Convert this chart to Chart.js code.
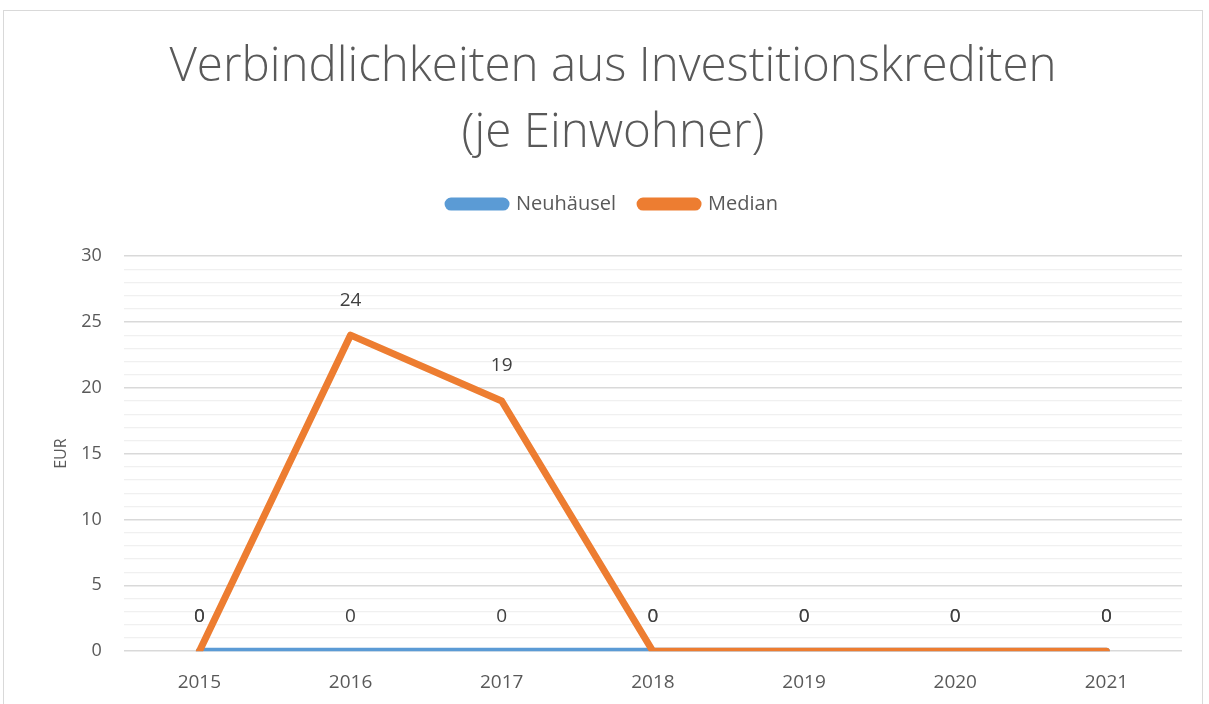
<!DOCTYPE html>
<html>
<head>
<meta charset="utf-8">
<script src="https://cdn.jsdelivr.net/npm/chart.js@4/dist/chart.umd.min.js"></script>
<style>
  html, body { margin: 0; padding: 0; background: #fff; overflow: hidden; }
  #wrap {
    position: absolute; left: 3px; top: 10px; width: 1200px; height: 700px;
    border: 1px solid #d9d9d9; box-sizing: border-box; background: #fff;
  }
</style>
</head>
<body>
<div id="wrap"><canvas id="chart"></canvas></div>
<script>
// --- data ---
const years = ['2015', '2016', '2017', '2018', '2019', '2020', '2021'];
const neuhaeusel = [0, 0, 0, 0, 0, 0, 0];
const median = [0, 24, 19, 0, 0, 0, 0];
const titleLines = ['Verbindlichkeiten aus Investitionskrediten', '(je Einwohner)'];

const FONT = "'Open Sans', 'Liberation Sans', sans-serif";
const GREY = '#595959';

// value labels above each point
const valueLabels = {
    id: 'valueLabels',
    afterDatasetsDraw(chart) {
        const ctx = chart.ctx;
        ctx.save();
        ctx.font = '19px ' + FONT;
        ctx.fillStyle = '#404040';
        ctx.textAlign = 'center';
        ctx.textBaseline = 'middle';
        chart.data.datasets.forEach((ds, i) => {
            const meta = chart.getDatasetMeta(i);
            meta.data.forEach((pt, j) => {
                ctx.fillText(String(ds.data[j]), pt.x, pt.y - 35);
            });
        });
        ctx.restore();
    }
};

// extra gap below the legend
const legendGap = {
    id: 'legendGap',
    beforeUpdate(chart) {
        const lg = chart.legend;
        if (lg && !lg._gapPatched) {
            const fit = lg.fit;
            lg.fit = function () {
                fit.call(this);
                this.height += 32;
            };
            lg._gapPatched = true;
        }
    }
};

new Chart(document.getElementById('chart'), {
    type: 'line',
    data: {
        labels: years,
        datasets: [
            {
                label: 'Neuhäusel', data: neuhaeusel,
                borderColor: '#5b9bd5', backgroundColor: '#5b9bd5',
                borderWidth: 7, pointRadius: 0, borderCapStyle: 'round', borderJoinStyle: 'round',
                order: 1
            },
            {
                label: 'Median', data: median,
                borderColor: '#ed7d31', backgroundColor: '#ed7d31',
                borderWidth: 7, pointRadius: 0, borderCapStyle: 'round', borderJoinStyle: 'round',
                order: 0
            }
        ]
    },
    options: {
        responsive: true,
        maintainAspectRatio: false,
        animation: false,
        layout: { padding: { left: 40, right: 20, top: 12, bottom: 3 } },
        plugins: {
            title: {
                display: true,
                text: titleLines,
                color: GREY,
                font: { family: FONT, size: 47.5, weight: '300', lineHeight: 1.38 },
                padding: { top: 12, bottom: 4 }
            },
            legend: {
                labels: {
                    color: GREY,
                    font: { family: FONT, size: 20 },
                    boxWidth: 58, boxHeight: 6,
                    useBorderRadius: true, borderRadius: 3,
                    padding: 24,
                    sort: (a, b) => a.datasetIndex - b.datasetIndex
                }
            },
            tooltip: { enabled: false }
        },
        scales: {
            x: {
                offset: true,
                grid: { display: false },
                border: { display: false },
                ticks: { color: GREY, font: { family: FONT, size: 19 }, padding: 12 }
            },
            y: {
                min: 0, max: 30,
                border: { display: false },
                title: { display: true, text: 'EUR', color: GREY, font: { family: FONT, size: 16 }, padding: { top: 8, bottom: -12 } },
                grid: {
                    drawTicks: false,
                    color: c => (c.tick.value % 5 === 0 ? '#d9d9d9' : '#f0f0f0'),
                    lineWidth: c => (c.tick.value % 5 === 0 ? 1.5 : 1.2)
                },
                ticks: {
                    stepSize: 1, autoSkip: false,
                    color: GREY, font: { family: FONT, size: 18 }, padding: 22,
                    callback: v => (v % 5 === 0 ? v : '')
                }
            }
        }
    },
    plugins: [valueLabels, legendGap]
});
</script>
</body>
</html>
